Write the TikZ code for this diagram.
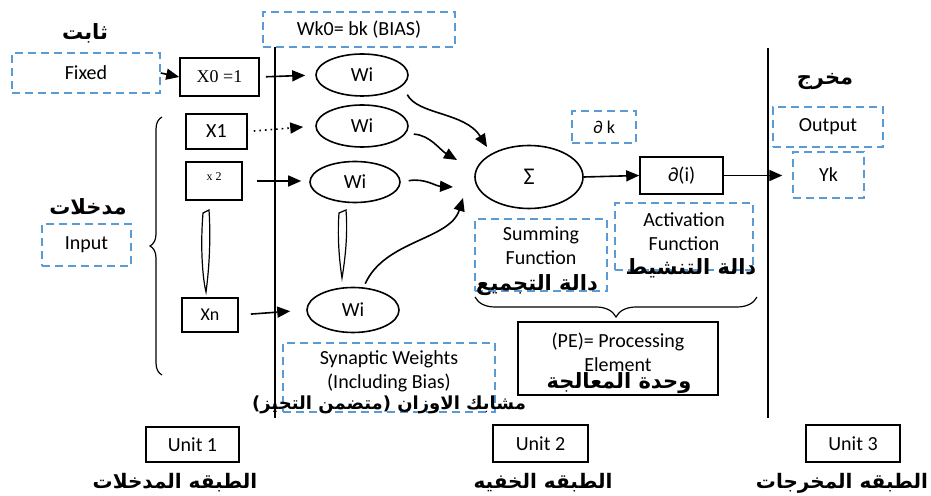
\documentclass[tikz,border=0pt]{standalone}
\usepackage{fontspec}
\setmainfont{Carlito}
\newfontfamily\arabicfont[Script=Arabic]{DejaVu Sans}
\newfontfamily\timesfont{Liberation Serif}
\TeXXeTstate=1
\usetikzlibrary{shapes.geometric,arrows.meta,decorations.pathreplacing}
\definecolor{dashblue}{RGB}{91,155,213}
\newcommand{\artext}[1]{\beginR #1\endR}
\tikzset{
  dbox/.style={draw=dashblue,line width=0.7pt,dash pattern=on 4pt off 2.5pt,inner sep=0pt,align=center},
  sbox/.style={draw,line width=0.8pt,inner sep=0pt,align=center},
  wnode/.style={draw,ellipse,line width=0.8pt,inner sep=0pt},
  arr/.style={line width=0.8pt,-{Triangle[length=6.5pt,width=5.5pt]}},
  artxt/.style={font=\arabicfont\bfseries\fontsize{10.5}{12}\selectfont,inner sep=0pt},
  laytxt/.style={font=\arabicfont\bfseries\fontsize{10}{12}\selectfont,inner sep=0pt}
}
\begin{document}
\begin{tikzpicture}[x=0.5pt,y=-0.5pt,font=\fontsize{10}{12}\selectfont]
  \useasboundingbox (0,0) rectangle (931,496);
  % layer borders
  \draw[line width=0.8pt] (275,47) -- (275,418);
  \draw[line width=0.8pt] (768,48) -- (768,418);
  % input side
  \node[artxt] (thabit) at (85,33) {\artext{ثابت}};
  \node[dbox,minimum width=74pt,minimum height=20pt] (fixed) at (86,73) {Fixed};
  \node[sbox,minimum width=39.5pt,minimum height=19pt,font=\timesfont\fontsize{9}{10}\selectfont] (x0) at (219.5,77) {X0 =1};
  \node[sbox,minimum width=30.5pt,minimum height=17.5pt] (x1) at (216.5,131.5) {X1};
  \node[sbox,minimum width=28pt,minimum height=19pt,font=\timesfont\fontsize{6}{7}\selectfont] (x2) at (214,181) {\raisebox{4pt}{x 2}};
  \node[sbox,minimum width=28pt,minimum height=17pt,font=\fontsize{9}{10}\selectfont] (xn) at (210,315) {Xn};
  \node[artxt] (mudkhalat) at (88,207) {\artext{مدخلات}};
  \node[dbox,minimum width=44.5pt,minimum height=21pt] (inp) at (86.5,245) {Input};
  \draw[line width=0.6pt,decorate,decoration={brace,amplitude=6pt}] (162,375) -- (162,117);
  \draw[line width=0.6pt] (203,213) .. controls (200,250) and (203,280) .. (206,292) .. controls (209,270) and (211,240) .. (209,210) -- cycle;
  % weights
  \node[dbox,minimum width=96pt,minimum height=17.5pt] (bias) at (359,29.5) {Wk0= bk (BIAS)};
  \node[wnode,minimum width=46pt,minimum height=21pt] (w1) at (362,75) {Wi};
  \node[wnode,minimum width=46pt,minimum height=21pt] (w2) at (362,126) {Wi};
  \node[wnode,minimum width=45pt,minimum height=20.5pt] (w3) at (355,182) {Wi};
  \node[wnode,minimum width=46pt,minimum height=22.5pt] (w4) at (353,310) {Wi};
  \draw[line width=0.6pt] (339,213) .. controls (337,240) and (340,265) .. (342,278) .. controls (345,260) and (348,235) .. (346,210) -- cycle;
  \node[dbox,minimum width=106pt,minimum height=34.5pt,text depth=8pt] (syn) at (389,377.5) {Synaptic Weights\\(Including Bias)};
  \node[artxt,font=\arabicfont\bfseries\fontsize{9}{10}\selectfont] (mashabik) at (389,405) {\artext{مشابك الاوزان (متضمن التحيز)}};
  % processing element
  \node[wnode,minimum width=54pt,minimum height=31.5pt,font=\fontsize{12}{14}\selectfont] (sig) at (529,177) {Σ};
  \node[dbox,minimum width=32pt,minimum height=16pt,font=\fontsize{9}{10}\selectfont] (dk) at (604,127) {∂ k};
  \node[sbox,minimum width=41.5pt,minimum height=18.5pt] (act) at (681.5,175.5) {∂(i)};
  \node[dbox,minimum width=66pt,minimum height=36pt,text depth=9pt] (sumf) at (541,255) {Summing\\Function};
  \node[dbox,minimum width=69pt,minimum height=33.5pt,text depth=5pt] (actf) at (684,236.5) {Activation\\Function};
  \node[artxt] (tajmee) at (537,285) {\artext{دالة التجميع}};
  \node[artxt] (tanshit) at (691,268) {\artext{دالة التنشيط}};
  \draw[line width=0.6pt,decorate,decoration={brace,amplitude=10pt}] (757,297) -- (475,297);
  \node[sbox,minimum width=100pt,minimum height=36.5pt,text depth=6pt] (pe) at (618,358.5) {(PE)= Processing\\Element};
  \node[artxt] (wahda) at (619,383) {\artext{وحدة المعالجة}};
  % output side
  \node[artxt] (makhraj) at (825,82) {\artext{مخرج}};
  \node[dbox,minimum width=55pt,minimum height=20pt] (outp) at (828,127) {Output};
  \node[dbox,minimum width=35.5pt,minimum height=23pt] (yk) at (828.5,175) {Yk};
  % units
  \node[sbox,minimum width=46.5pt,minimum height=17.5pt] (u1) at (192.5,444.5) {Unit 1};
  \node[sbox,minimum width=47.5pt,minimum height=18.5pt] (u2) at (540.5,443.5) {Unit 2};
  \node[sbox,minimum width=47pt,minimum height=18.5pt] (u3) at (853,443.5) {Unit 3};
  \node[laytxt] (lay1) at (175,483) {\artext{الطبقه المدخلات}};
  \node[laytxt] (lay2) at (543,483) {\artext{الطبقه الخفيه}};
  \node[laytxt] (lay3) at (842,483) {\artext{الطبقه المخرجات}};
  % connectors
  \coordinate (t1) at (487,147);
  \coordinate (t2) at (457,160);
  \coordinate (t3) at (453,187);
  \coordinate (t4) at (463,198);
  \draw[arr] (fixed.east) -- (x0.west);
  \draw[arr,shorten <=3pt,shorten >=5pt] (x0.east) -- (w1.west);
  \draw[arr,dotted,shorten <=3pt,shorten >=6pt] (x1.east) -- (w2.west);
  \draw[arr,shorten <=7pt,shorten >=4pt] (x2.east) -- (x2.east -| w3.west);
  \draw[arr,shorten <=6pt,shorten >=8pt] (xn.east) -- (w4.west);
  \draw[arr,shorten <=5pt] (w1.-15) .. controls (418,115) and (465,112) .. (t1);
  \draw[arr,shorten <=4pt] (w2.-10) .. controls (430,135) and (440,150) .. (t2);
  \draw[arr,shorten <=4pt] (w3.east) .. controls (425,178) and (435,186) .. (t3);
  \draw[arr,shorten <=2pt] (w4.65) .. controls (385,240) and (450,240) .. (t4);
  \draw[arr] (sig.east) -- (act.west);
  \draw[arr,shorten >=5pt] (act.east) -- (act.east -| yk.west);
\end{tikzpicture}
\end{document}
